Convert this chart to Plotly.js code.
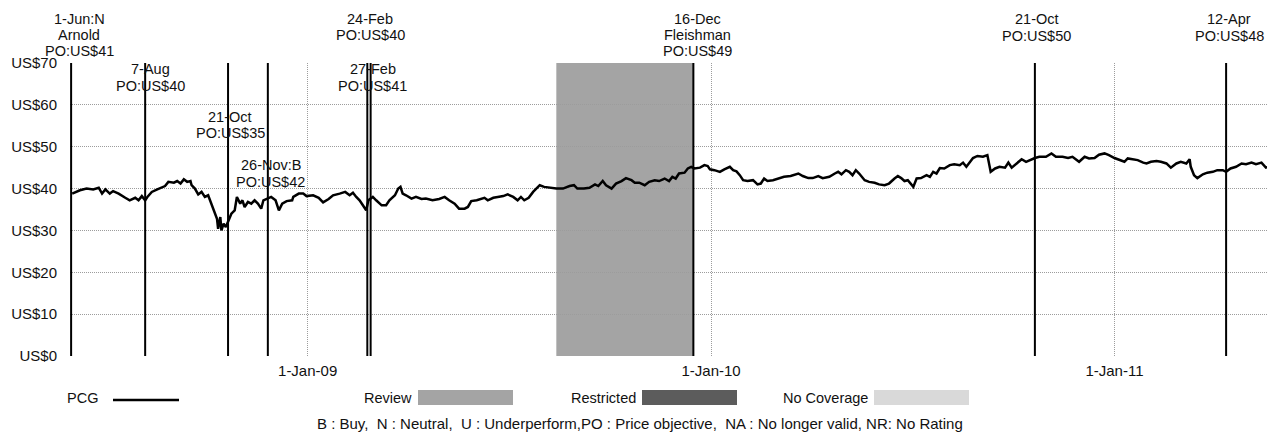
<!DOCTYPE html>
<html>
<head>
<meta charset="utf-8">
<script src="https://cdn.plot.ly/plotly-3.0.1.min.js"></script>
<style>html,body{margin:0;padding:0;background:#fff;}#chart{width:1267px;height:433px;}</style>
</head>
<body>
<div id="chart"></div>
<script>
// ---------------- DATA ----------------
const priceDates = [
'2008-06-02','2008-06-05','2008-06-09','2008-06-15','2008-06-21','2008-06-26','2008-06-29','2008-07-02','2008-07-06','2008-07-09','2008-07-14','2008-07-20','2008-07-24','2008-07-29','2008-08-01','2008-08-04','2008-08-07','2008-08-09','2008-08-13','2008-08-18','2008-08-21','2008-08-25','2008-08-28','2008-09-02','2008-09-05','2008-09-08','2008-09-11','2008-09-14','2008-09-17','2008-09-18','2008-09-21','2008-09-24','2008-09-27','2008-09-30','2008-10-03','2008-10-06','2008-10-08','2008-10-11','2008-10-12','2008-10-14','2008-10-15','2008-10-17','2008-10-19','2008-10-21','2008-10-24','2008-10-27','2008-10-29','2008-11-01','2008-11-03','2008-11-05','2008-11-08','2008-11-11','2008-11-14','2008-11-17','2008-11-20','2008-11-22','2008-11-25','2008-11-29','2008-12-03','2008-12-06','2008-12-09','2008-12-13','2008-12-18','2008-12-19','2008-12-24','2008-12-28','2008-12-31',
'2009-01-06','2009-01-11','2009-01-15','2009-01-20','2009-01-24','2009-01-30','2009-02-04','2009-02-08','2009-02-11','2009-02-14','2009-02-17','2009-02-20','2009-02-23','2009-02-25','2009-03-01','2009-03-04','2009-03-09','2009-03-13','2009-03-16','2009-03-21','2009-03-24','2009-03-26','2009-03-28','2009-03-31','2009-04-05','2009-04-09','2009-04-14','2009-04-18','2009-04-24','2009-04-30','2009-05-05','2009-05-09','2009-05-14','2009-05-18','2009-05-23','2009-05-26','2009-05-29','2009-06-03','2009-06-06','2009-06-10','2009-06-13','2009-06-18','2009-06-22','2009-06-27','2009-07-01','2009-07-06','2009-07-10','2009-07-13','2009-07-16','2009-07-20','2009-07-24','2009-07-28','2009-07-30','2009-08-03','2009-08-08','2009-08-14','2009-08-20','2009-08-26','2009-08-30','2009-09-02','2009-09-08','2009-09-13','2009-09-18','2009-09-21','2009-09-25','2009-09-28','2009-10-03','2009-10-07','2009-10-12','2009-10-16','2009-10-21','2009-10-24','2009-10-28','2009-11-02','2009-11-06','2009-11-11','2009-11-15','2009-11-20','2009-11-24','2009-11-27','2009-11-30','2009-12-03','2009-12-08','2009-12-11','2009-12-14','2009-12-17','2009-12-22','2009-12-26','2009-12-29','2009-12-31',
'2010-01-04','2010-01-09','2010-01-13','2010-01-18','2010-01-21','2010-01-24','2010-01-27','2010-01-30','2010-02-03','2010-02-08','2010-02-12','2010-02-15','2010-02-18','2010-02-21','2010-02-26','2010-03-04','2010-03-08','2010-03-14','2010-03-21','2010-03-25','2010-03-30','2010-04-03','2010-04-08','2010-04-12','2010-04-18','2010-04-23','2010-04-26','2010-04-29','2010-05-03','2010-05-06','2010-05-09','2010-05-12','2010-05-15','2010-05-20','2010-05-24','2010-05-29','2010-06-02','2010-06-07','2010-06-11','2010-06-16','2010-06-19','2010-06-22','2010-06-25','2010-06-28','2010-07-03','2010-07-06','2010-07-10','2010-07-15','2010-07-18','2010-07-21','2010-07-24','2010-07-27','2010-07-31','2010-08-05','2010-08-09','2010-08-14','2010-08-17','2010-08-20','2010-08-23','2010-08-26','2010-08-30','2010-09-04','2010-09-08','2010-09-11','2010-09-15','2010-09-19','2010-09-24','2010-09-27','2010-09-30','2010-10-04','2010-10-09','2010-10-13','2010-10-18','2010-10-21','2010-10-25','2010-10-31','2010-11-05','2010-11-09','2010-11-15','2010-11-20','2010-11-24','2010-11-30','2010-12-05','2010-12-09','2010-12-14','2010-12-18','2010-12-23','2010-12-27',
'2011-01-01','2011-01-06','2011-01-10','2011-01-13','2011-01-18','2011-01-22','2011-01-27','2011-01-30','2011-02-03','2011-02-08','2011-02-12','2011-02-17','2011-02-21','2011-02-26','2011-03-02','2011-03-07','2011-03-10','2011-03-11','2011-03-14','2011-03-17','2011-03-22','2011-03-26','2011-03-31','2011-04-04','2011-04-09','2011-04-12','2011-04-16','2011-04-21','2011-04-26','2011-04-30','2011-05-05','2011-05-09','2011-05-14','2011-05-18','2011-05-20'
];
const priceValues = [
38.8,39.2,39.6,40.0,39.8,40.2,38.8,39.8,38.8,39.4,38.8,37.8,37.2,37.8,37.2,38.2,37.2,38.0,39.2,39.8,40.2,40.6,41.6,41.4,41.8,41.2,42.2,41.6,41.8,40.8,40.0,38.6,39.2,38.0,38.4,36.4,34.8,32.8,30.4,33.2,30.0,31.6,30.8,32.0,34.0,34.8,38.0,36.4,37.2,35.6,36.8,36.4,37.2,36.4,35.2,37.2,37.6,38.0,37.2,34.8,36.4,37.0,37.2,38.0,38.8,38.8,38.2,
38.4,37.8,36.7,37.5,38.4,38.8,39.2,38.4,39.0,38.0,37.2,36.0,34.8,37.2,38.0,37.2,36.0,36.0,37.2,38.4,40.0,40.4,38.8,38.4,37.6,38.0,37.5,37.6,37.2,37.5,38.0,37.2,36.4,35.2,35.2,35.6,37.0,37.2,37.5,37.8,37.2,37.8,38.0,38.2,38.6,38.0,37.2,38.0,37.2,37.8,39.2,40.4,40.8,40.4,40.2,40.0,40.0,40.6,40.8,40.0,40.0,40.2,41.0,40.6,41.8,40.8,40.0,41.2,41.8,42.5,42.0,41.4,41.4,40.8,41.6,42.0,41.8,42.4,41.8,42.8,42.4,43.6,43.8,44.8,45.2,44.8,45.0,45.6,45.4,44.6,
44.4,44.0,44.6,45.2,44.4,44.1,43.2,42.0,41.8,42.0,41.0,41.2,42.4,41.8,42.0,42.4,42.8,43.0,43.6,43.0,42.5,42.5,43.0,42.5,42.8,43.6,44.0,43.4,44.4,44.0,43.2,44.4,43.6,42.0,41.6,41.4,41.0,40.8,41.2,42.4,43.0,42.5,41.8,42.0,40.4,42.4,42.5,43.2,42.8,44.0,43.6,44.9,44.8,45.6,45.8,45.6,46.2,45.2,46.4,47.3,47.8,47.6,48.0,44.0,44.8,45.2,45.0,46.2,45.0,45.8,47.0,46.4,47.0,47.3,47.6,47.6,48.4,47.6,47.6,47.3,47.6,46.4,47.6,47.2,47.3,48.1,48.4,48.0,
47.3,46.8,46.4,47.2,47.0,46.8,46.2,46.0,46.4,46.6,46.4,46.0,45.0,46.0,46.4,46.0,47.0,45.2,43.2,42.5,43.4,43.8,44.0,44.4,44.4,44.0,44.8,45.2,46.0,45.8,46.2,45.8,46.2,45.0,45.2
];
const eventDates = ['2008-06-01','2008-08-07','2008-10-21','2008-11-26','2009-02-24','2009-02-27','2009-12-16','2010-10-21','2011-04-12'];
const eventLabels = [
  ['1-Jun:N','Arnold','PO:US$41'],
  ['7-Aug','PO:US$40'],
  ['21-Oct','PO:US$35'],
  ['26-Nov:B','PO:US$42'],
  ['24-Feb','PO:US$40'],
  ['27-Feb','PO:US$41'],
  ['16-Dec','Fleishman','PO:US$49'],
  ['21-Oct','PO:US$50'],
  ['12-Apr','PO:US$48']
];
const reviewStart = '2009-08-14';
const reviewEnd = '2009-12-16';
const yTickVals = [0,10,20,30,40,50,60,70];
const yTickText = ['US$0','US$10','US$20','US$30','US$40','US$50','US$60','US$70'];
const xTickVals = ['2009-01-01','2010-01-01','2011-01-01'];
const xTickText = ['1-Jan-09','1-Jan-10','1-Jan-11'];
const legendNames = ['PCG','Review','Restricted','No Coverage'];
const footnote = 'B : Buy,  N : Neutral,  U : Underperform,PO : Price objective,  NA : No longer valid, NR: No Rating';

// ---------------- STYLE / POSITIONS ----------------
const FONT = 'Liberation Sans, Arial, Helvetica, sans-serif';
const TXT = '#111';
const W = 1267, H = 433, L = 70, T = 63, B = 356;
const PW = W - L, PH = B - T;
const px = v => (v - L) / PW;
const py = v => (B - v) / PH;
const labelMidY = [35, 77.5, 125, 173.5, 27, 77.5, 35, 27.25, 27.25]; // pixel centre of each label block
const labelXShift = [8, 5, 2, 3, 3, 2, 4, 2, 3];
const LINE_STEP = 16.5;
const ANN_SIZE = 14.5;
const REVIEW_COL = '#a4a4a4', RESTRICT_COL = '#5c5c5c', NOCOV_COL = '#d9d9d9';

const shapes = [];
const annotations = [];

// review shading
shapes.push({type:'rect', xref:'x', yref:'paper', x0:reviewStart, x1:reviewEnd, y0:0, y1:1,
  fillcolor:REVIEW_COL, line:{width:0}, layer:'below'});

// event lines + labels
eventDates.forEach((d, i) => {
  shapes.push({type:'line', xref:'x', yref:'paper', x0:d, x1:d, y0:0, y1:1,
    line:{color:'#000', width:2}});
  const n = eventLabels[i].length;
  eventLabels[i].forEach((t, k) => {
    const yc = labelMidY[i] + (k - (n - 1) / 2) * LINE_STEP;
    annotations.push({text:t, xref:'x', yref:'paper', x:d, y:py(yc), xanchor:'center', yanchor:'middle',
      xshift:labelXShift[i], showarrow:false, borderpad:0, font:{family:FONT, size:ANN_SIZE, color:TXT}});
  });
});

// legend row
const LY = 398;
annotations.push({text:legendNames[0], xref:'paper', yref:'paper', x:px(82), y:py(LY), xanchor:'center', yanchor:'middle', showarrow:false, font:{family:FONT, size:14.5, color:TXT}});
shapes.push({type:'line', xref:'paper', yref:'paper', x0:px(113), x1:px(179), y0:py(400), y1:py(400), line:{color:'#000', width:2.5}});
const legendSw = [[414, 418, REVIEW_COL], [638, 642, RESTRICT_COL], [870, 874, NOCOV_COL]];
legendSw.forEach((s, i) => {
  annotations.push({text:legendNames[i+1], xref:'paper', yref:'paper', x:px(s[0]), y:py(LY), xanchor:'right', yanchor:'middle', showarrow:false, font:{family:FONT, size:14.5, color:TXT}});
  shapes.push({type:'rect', xref:'paper', yref:'paper', x0:px(s[1]), x1:px(s[1]+95), y0:py(405), y1:py(390), fillcolor:s[2], line:{width:0}});
});
annotations.push({text:footnote, xref:'paper', yref:'paper', x:px(640), y:py(423), xanchor:'center', yanchor:'middle', showarrow:false, font:{family:FONT, size:15, color:TXT}});

const trace = {x:priceDates, y:priceValues, type:'scatter', mode:'lines', line:{color:'#000', width:2.5}, hoverinfo:'skip', showlegend:false};

const GRID = '#9c9c9c';
const layout = {
  width:W, height:H, margin:{l:L, r:0, t:T, b:H-B, pad:0},
  paper_bgcolor:'#fff', plot_bgcolor:'#fff', showlegend:false,
  font:{family:FONT, size:15, color:TXT},
  xaxis:{type:'date', range:['2008-05-31','2011-05-19'], tickvals:xTickVals, ticktext:xTickText,
    showgrid:true, gridcolor:GRID, griddash:'1px,1px', gridwidth:1, zeroline:false, showline:false,
    ticks:'', ticklabelstandoff:4, tickfont:{family:FONT, size:15, color:TXT}, fixedrange:true},
  yaxis:{range:[0,70], tickvals:yTickVals, ticktext:yTickText, showgrid:true, gridcolor:GRID, griddash:'1px,1px', gridwidth:1,
    zeroline:false, showline:false, ticks:'', ticklabelstandoff:12, tickfont:{family:FONT, size:15, color:TXT}, fixedrange:true},
  shapes:shapes, annotations:annotations
};
Plotly.newPlot('chart', [trace], layout, {staticPlot:true, displayModeBar:false});
</script>
</body>
</html>
